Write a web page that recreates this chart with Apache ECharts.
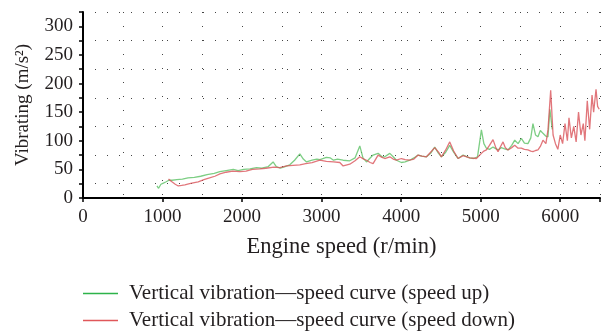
<!DOCTYPE html>
<html><head><meta charset="utf-8">
<script src="https://cdn.jsdelivr.net/npm/echarts@6/dist/echarts.min.js"></script>
<style>html,body{margin:0;padding:0;background:#fff}#c{width:604px;height:331px}</style>
</head><body><div id="c"></div>
<script>
// Speed up (green)
const upRpm = [930,950,980,1010,1040,1080,1120,1180,1250,1320,1400,1480,1560,1650,1720,1800,1890,1950,2020,2100,2180,2250,2330,2390,2430,2480,2540,2600,2660,2726,2770,2810,2880,2940,2980,3060,3110,3150,3200,3270,3354,3420,3480,3520,3564,3610,3647,3710,3760,3794,3857,3900,3941,4003,4050,4108,4160,4213,4260,4318,4370,4422,4470,4506,4560,4611,4660,4716,4779,4830,4862,4910,4960,5009,5040,5072,5110,5155,5218,5260,5300,5344,5390,5428,5470,5511,5550,5594,5630,5657,5690,5720,5750,5783,5820,5846,5870,5900];
const upVib = [21,17,24,26,28,31,31,32,33,35,36,38,41,43,46,48,50,48,50,51,53,52,55,63,55,52,55,58,66,77,68,63,66,68,67,71,70,66,68,66,65,70,91,70,63,70,75,78,72,72,78,72,66,62,63,66,70,75,73,72,78,89,78,72,80,92,80,69,75,72,70,69,72,119,95,87,85,89,84,88,86,84,92,101,95,104,96,95,105,130,110,107,118,113,108,107,155,120];
// Speed down (red)
const downRpm = [1075,1093,1122,1160,1198,1240,1281,1340,1400,1449,1520,1590,1658,1721,1800,1880,1972,2050,2130,2224,2300,2400,2475,2560,2640,2726,2800,2880,2977,3060,3150,3229,3270,3320,3354,3420,3480,3530,3564,3610,3647,3710,3760,3794,3857,3900,3941,4003,4050,4108,4160,4213,4260,4318,4370,4422,4470,4506,4560,4611,4660,4716,4779,4862,4946,5009,5040,5072,5110,5155,5190,5218,5250,5281,5310,5344,5390,5428,5470,5511,5550,5594,5630,5657,5690,5720,5750,5783,5820,5846,5880,5910,5940,5970,6000,6030,6060,6090,6110,6140,6170,6200,6230,6260,6290,6310,6340,6370,6400,6420,6450,6470,6490];
const downVib = [33,36,28,24,21,22,23,25,27,28,32,35,38,42,45,47,46,47,50,51,52,54,53,56,57,58,60,62,66,64,63,62,56,58,59,65,72,68,66,62,60,75,71,69,72,68,66,69,67,66,68,75,73,72,80,88,80,72,84,98,82,69,74,70,69,78,82,84,92,102,88,81,90,98,88,84,88,92,87,87,85,84,82,81,83,84,90,101,95,119,188,110,95,85,110,95,130,100,140,105,125,98,150,110,130,100,170,120,180,150,190,160,155];
const yTicks = [0,50,100,150,200,250,300];
const xTicks = [0,1000,2000,3000,4000,5000,6000];
const seriesNames = ['Vertical vibration\u2014speed curve (speed up)','Vertical vibration\u2014speed curve (speed down)'];

const FONT = '"Liberation Serif", "DejaVu Serif", serif';
const TXT = '#231f20';
const zip = (a,b)=>a.map((v,i)=>[v,b[i]]);
const chart = echarts.init(document.getElementById('c'));
chart.setOption({
  animation:false,
  grid:{left:83,right:4,top:12,bottom:133},
  legend:{orient:'vertical',left:83,top:283,icon:'rect',itemWidth:35,itemHeight:1.5,itemGap:6,padding:0,
    textStyle:{fontFamily:FONT,fontSize:21,color:TXT,padding:[0,0,0,6]},
    data:[{name:seriesNames[0],itemStyle:{color:'#2db34a'}},{name:seriesNames[1],itemStyle:{color:'#e0575a'}}]},
  xAxis:[{type:'value',min:0,max:6500,interval:500,
    axisLine:{show:true,lineStyle:{color:'#000',width:2}},axisTick:{show:false},
    axisLabel:{fontFamily:FONT,fontSize:19,color:TXT,margin:10,formatter:v=>xTicks.includes(v)?String(v):''},
    splitLine:{show:true,lineStyle:{type:[1,13],color:'#444',width:1}},
    name:'Engine speed (r/min)',nameLocation:'middle',nameGap:38,
    nameTextStyle:{fontFamily:FONT,fontSize:22.5,color:TXT}},
   {type:'value',min:0,max:6500,interval:1000,position:'bottom',
    axisLine:{show:false},axisTick:{show:true,length:4,lineStyle:{color:'#000',width:1.5}},
    axisLabel:{show:false},splitLine:{show:false}}],
  yAxis:{type:'value',min:0,max:325,interval:25,
    axisLine:{show:true,lineStyle:{color:'#000',width:2}},
    axisTick:{show:true,length:4,lineStyle:{color:'#000',width:1.5}},
    axisLabel:{fontFamily:FONT,fontSize:19,color:TXT,margin:10,formatter:v=>yTicks.includes(v)?String(v):''},
    splitLine:{show:true,lineStyle:{type:[1,11],color:['rgba(0,0,0,0)','#444'],width:1}},
    name:'Vibrating (m/s\u00b2)',nameLocation:'middle',nameGap:50,
    nameTextStyle:{fontFamily:FONT,fontSize:19,color:TXT}},
  series:[
    {name:seriesNames[0],type:'line',xAxisIndex:0,symbol:'none',data:zip(upRpm,upVib),
     itemStyle:{color:'#2db34a'},lineStyle:{color:'#5cc265',width:1.3,opacity:0.8}},
    {name:seriesNames[1],type:'line',xAxisIndex:0,symbol:'none',data:zip(downRpm,downVib),
     itemStyle:{color:'#e0575a'},lineStyle:{color:'#d9545a',width:1.3,opacity:0.8}}
  ]
});
</script></body></html>
